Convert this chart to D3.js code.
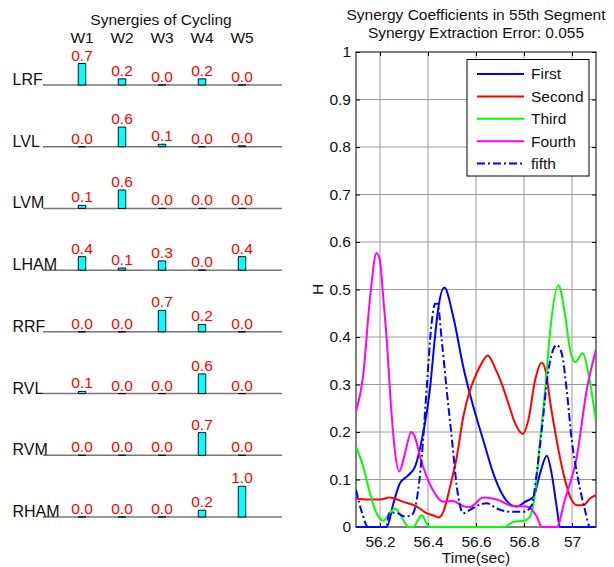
<!DOCTYPE html>
<html>
<head>
<meta charset="utf-8">
<script src="https://cdn.jsdelivr.net/npm/d3@7"></script>
<style>
  html, body { margin: 0; padding: 0; background: #fff; }
  svg { display: block; font-family: "Liberation Sans", Arial, Helvetica, sans-serif; }
</style>
</head>
<body>
<svg id="chart" width="614" height="567"></svg>
<script>
// ---- Synergy weights (muscle x synergy) ----
const muscles = ["LRF", "LVL", "LVM", "LHAM", "RRF", "RVL", "RVM", "RHAM"];
const synergies = ["W1", "W2", "W3", "W4", "W5"];
const wLRF  = [0.70, 0.20, 0.00, 0.20, 0.00];
const wLVL  = [0.00, 0.64, 0.08, 0.00, 0.03];
const wLVM  = [0.10, 0.60, 0.00, 0.00, 0.00];
const wLHAM = [0.44, 0.07, 0.30, 0.00, 0.44];
const wRRF  = [0.00, 0.00, 0.70, 0.24, 0.00];
const wRVL  = [0.07, 0.00, 0.00, 0.64, 0.00];
const wRVM  = [0.00, 0.00, 0.00, 0.74, 0.00];
const wRHAM = [0.00, 0.00, 0.00, 0.22, 1.00];
const weights = [wLRF, wLVL, wLVM, wLHAM, wRRF, wRVL, wRVM, wRHAM];

// ---- Synergy activation coefficients, [time (s), H] ----
const first = [[56.10,0],[56.228,0],[56.256,0.05],[56.283,0.092],[56.318,0.109],[56.346,0.127],
  [56.374,0.183],[56.408,0.29],[56.429,0.40],[56.44,0.45],[56.468,0.504],[56.505,0.443],
  [56.547,0.337],[56.589,0.253],[56.63,0.183],[56.672,0.113],[56.707,0.071],[56.742,0.048],
  [56.77,0.043],[56.804,0.053],[56.84,0.064],[56.867,0.113],[56.895,0.15],[56.915,0.113],
  [56.936,0.043],[56.95,0],[57.1,0]];
const second = [[56.10,0.06],[56.15,0.058],[56.2,0.058],[56.24,0.062],[56.297,0.053],[56.353,0.043],
  [56.394,0.029],[56.43,0.023],[56.443,0.02],[56.464,0.032],[56.492,0.085],[56.52,0.148],
  [56.547,0.232],[56.575,0.288],[56.596,0.316],[56.624,0.345],[56.649,0.361],[56.68,0.334],
  [56.707,0.302],[56.735,0.26],[56.763,0.218],[56.795,0.196],[56.818,0.225],[56.846,0.309],
  [56.874,0.346],[56.892,0.324],[56.908,0.267],[56.936,0.183],[56.964,0.113],[56.992,0.064],
  [57.02,0.046],[57.047,0.046],[57.075,0.06],[57.1,0.067]];
const third = [[56.10,0.169],[56.13,0.127],[56.158,0.071],[56.186,0.029],[56.214,0.013],[56.24,0.029],
  [56.263,0.039],[56.297,0.015],[56.318,0],[56.34,0],[56.355,0.012],[56.374,0.025],[56.392,0.01],
  [56.408,0],[56.72,0],[56.756,0.011],[56.8,0.013],[56.825,0.022],[56.846,0.071],[56.867,0.183],
  [56.888,0.288],[56.908,0.408],[56.943,0.509],[56.97,0.45],[56.992,0.373],[57.013,0.347],
  [57.045,0.366],[57.068,0.324],[57.1,0.222]];
const fourth = [[56.10,0.243],[56.13,0.32],[56.158,0.48],[56.186,0.577],[56.2,0.56],[56.214,0.48],
  [56.228,0.394],[56.245,0.26],[56.262,0.16],[56.28,0.117],[56.304,0.155],[56.33,0.2],[56.345,0.19],
  [56.367,0.148],[56.42,0.078],[56.464,0.053],[56.505,0.055],[56.547,0.044],[56.575,0.042],
  [56.63,0.062],[56.686,0.058],[56.755,0.044],[56.81,0.043],[56.84,0.032],[56.853,0.022],
  [56.874,0],[56.936,0],[56.97,0.057],[57.02,0.148],[57.061,0.288],[57.1,0.373]];
const fifth = [[56.10,0.078],[56.125,0.03],[56.15,0],[56.225,0],[56.24,0.03],[56.265,0.03],
  [56.304,0.022],[56.332,0.025],[56.353,0.057],[56.374,0.148],[56.394,0.288],[56.415,0.429],
  [56.43,0.47],[56.44,0.47],[56.457,0.394],[56.478,0.288],[56.5,0.183],[56.52,0.085],[56.547,0.029],
  [56.575,0.036],[56.61,0.046],[56.645,0.05],[56.686,0.039],[56.742,0.032],[56.8,0.032],
  [56.832,0.046],[56.853,0.113],[56.874,0.204],[56.9,0.324],[56.936,0.383],[56.957,0.366],
  [56.978,0.288],[56.999,0.183],[57.026,0.099],[57.054,0.036],[57.075,0],[57.1,0]];

const seriesNames = ["First", "Second", "Third", "Fourth", "fifth"];
const seriesData = [first, second, third, fourth, fifth];
const seriesColors = ["#0000ff", "#ff0000", "#00ff00", "#ff00ff", "#0000ff"];
const seriesDash = [null, null, null, null, "8,3,2,3"];

const xTicks = [56.2, 56.4, 56.6, 56.8, 57.0];
const yTicks = [0, 0.1, 0.2, 0.3, 0.4, 0.5, 0.6, 0.7, 0.8, 0.9, 1];

const FS = 15.5;
const svg = d3.select("#chart");
svg.append("rect").attr("width", 614).attr("height", 567).attr("fill", "#fff");

// =============== Left panel: synergy weight bars ===============
const left = svg.append("g");
const rowY = d3.scalePoint().domain(muscles).range([85, 517]);
const colX = d3.scalePoint().domain(synergies).range([82, 242]);
const barH = d3.scaleLinear().domain([0, 1]).range([0, 30.7]);
const barW = 7.5;
const fmt1 = d3.format(".1f");

left.append("text").attr("x", 161).attr("y", 25).attr("text-anchor", "middle")
  .attr("font-size", FS).attr("fill", "#111").text("Synergies of Cycling");

left.selectAll("text.wh").data(synergies).join("text").attr("class", "wh")
  .attr("x", d => colX(d)).attr("y", 43).attr("text-anchor", "middle")
  .attr("font-size", FS).attr("fill", "#111").text(d => d);

const rows = left.selectAll("g.row").data(muscles).join("g").attr("class", "row")
  .attr("transform", d => `translate(0,${rowY(d)})`);

rows.append("line").attr("x1", 43).attr("x2", 282).attr("y1", 0).attr("y2", 0)
  .attr("stroke", "#777").attr("stroke-width", 1.5);

rows.append("text").attr("x", 12.5).attr("y", 0).attr("font-size", 16).attr("fill", "#111")
  .text(d => d);

rows.each(function(m, i) {
  const g = d3.select(this);
  const vals = weights[i].map((v, j) => ({ w: synergies[j], v }));
  g.selectAll("path.bar").data(vals).join("path").attr("class", "bar")
    .attr("d", d => {
      const x0 = colX(d.w) - barW / 2, h = barH(d.v);
      return `M${x0},0V${-h}H${x0 + barW}V0Z`;
    })
    .attr("fill", "#00ffff").attr("stroke", "#111").attr("stroke-width", 1);
  g.selectAll("text.val").data(vals).join("text").attr("class", "val")
    .attr("x", d => colX(d.w)).attr("y", d => -barH(d.v) - 3)
    .attr("text-anchor", "middle").attr("font-size", FS).attr("fill", "#ff0000")
    .text(d => fmt1(d.v));
});

// =============== Right panel: coefficient time series ===============
const P = { l: 356, r: 596, t: 52, b: 527 };
const x = d3.scaleLinear().domain([56.1, 57.1]).range([P.l, P.r]);
const y = d3.scaleLinear().domain([0, 1]).range([P.b, P.t]);
const right = svg.append("g");

// grid
right.selectAll("line.gx").data(xTicks).join("line").attr("class", "gx")
  .attr("x1", d => x(d)).attr("x2", d => x(d)).attr("y1", P.t).attr("y2", P.b)
  .attr("stroke", "#9a9a9a").attr("stroke-width", 1);
right.selectAll("line.gy").data(yTicks.slice(1, -1)).join("line").attr("class", "gy")
  .attr("x1", P.l).attr("x2", P.r).attr("y1", d => y(d)).attr("y2", d => y(d))
  .attr("stroke", "#9a9a9a").attr("stroke-width", 1);

// box
right.append("rect").attr("x", P.l).attr("y", P.t).attr("width", P.r - P.l).attr("height", P.b - P.t)
  .attr("fill", "none").attr("stroke", "#000").attr("stroke-width", 1);

// axes with inward ticks on all four sides
const fmtTick = d3.format("~g");
const axL = right.append("g").attr("transform", `translate(${P.l},0)`)
  .call(d3.axisLeft(y).tickValues(yTicks).tickFormat(fmtTick).tickSize(-4).tickPadding(5));
const axR = right.append("g").attr("transform", `translate(${P.r},0)`)
  .call(d3.axisRight(y).tickValues(yTicks).tickFormat("").tickSize(-4));
const axB = right.append("g").attr("transform", `translate(0,${P.b})`)
  .call(d3.axisBottom(x).tickValues(xTicks).tickFormat(fmtTick).tickSize(-4).tickPadding(9));
const axT = right.append("g").attr("transform", `translate(0,${P.t})`)
  .call(d3.axisTop(x).tickValues(xTicks).tickFormat("").tickSize(-4));
[axL, axR, axB, axT].forEach(a => {
  a.select(".domain").remove();
  a.selectAll("text").attr("font-size", FS).attr("fill", "#111")
    .attr("font-family", "'Liberation Sans', Arial, Helvetica, sans-serif");
  a.selectAll("line").attr("stroke", "#000");
});

// curves
svg.append("defs").append("clipPath").attr("id", "plotClip")
  .append("rect").attr("x", P.l).attr("y", P.t).attr("width", P.r - P.l).attr("height", P.b - P.t + 2);
const line = d3.line().x(d => x(d[0])).y(d => y(d[1])).curve(d3.curveMonotoneX);
right.append("g").attr("clip-path", "url(#plotClip)")
  .selectAll("path").data(seriesData).join("path")
  .attr("d", d => line(d)).attr("fill", "none")
  .attr("stroke", (d, i) => seriesColors[i]).attr("stroke-width", 2)
  .attr("stroke-dasharray", (d, i) => seriesDash[i]);

// titles and labels
right.append("text").attr("x", 476).attr("y", 19.5).attr("text-anchor", "middle")
  .attr("font-size", FS).attr("fill", "#111").text("Synergy Coefficients in 55th Segment");
right.append("text").attr("x", 476).attr("y", 38).attr("text-anchor", "middle")
  .attr("font-size", FS).attr("fill", "#111").text("Synergy Extraction Error: 0.055");
right.append("text").attr("x", 476).attr("y", 563).attr("text-anchor", "middle")
  .attr("font-size", FS).attr("fill", "#111").text("Time(sec)");
right.append("text").attr("transform", `translate(323,${y(0.5)}) rotate(-90)`)
  .attr("text-anchor", "middle").attr("font-size", FS).attr("fill", "#111").text("H");

// legend
const lg = right.append("g");
lg.append("rect").attr("x", 467).attr("y", 59.5).attr("width", 122).attr("height", 116.5)
  .attr("fill", "#fff").attr("stroke", "#000").attr("stroke-width", 1);
const lgRow = d3.scalePoint().domain(seriesNames).range([74, 163.5]);
seriesNames.forEach((name, i) => {
  lg.append("line").attr("x1", 477).attr("x2", 524).attr("y1", lgRow(name)).attr("y2", lgRow(name))
    .attr("stroke", seriesColors[i]).attr("stroke-width", 2)
    .attr("stroke-dasharray", seriesDash[i]);
  lg.append("text").attr("x", 531).attr("y", lgRow(name)).attr("dy", "0.35em")
    .attr("font-size", FS).attr("fill", "#111").text(name);
});
</script>
</body>
</html>
